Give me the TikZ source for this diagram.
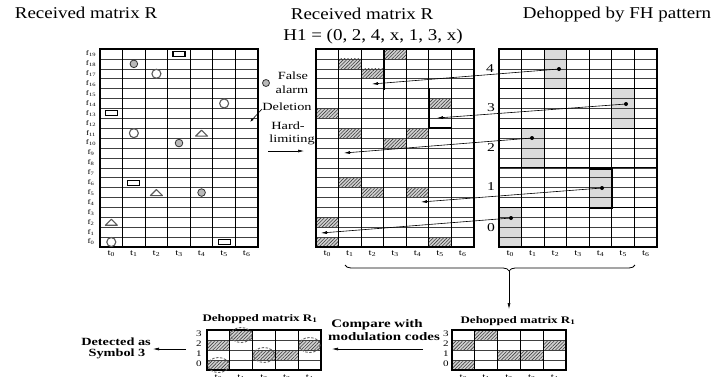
\documentclass[tikz,border=0pt]{standalone}
\usepackage{fontspec}
\setmainfont[FakeStretch=1.15]{Liberation Serif}
\newfontfamily\wfont[FakeStretch=1.3]{Liberation Serif}
\usetikzlibrary{patterns.meta,arrows.meta,decorations.pathreplacing}
\newcommand\mcell[4]{\path[#4] ({#1+#2*22.571},{247-(#3+1)*9.9}) rectangle ({#1+(#2+1)*22.571},{247-#3*9.9});}
\newcommand\bcell[4]{\path[#4] ({#1+#2*22.8},{370-(#3+1)*10}) rectangle ({#1+(#2+1)*22.8},{370-#3*10});}
\newcommand\biggrid[1]{%
  \foreach \r in {1,...,19} \draw[hline] (#1,{247-\r*9.9}) -- ({#1+158},{247-\r*9.9});
  \foreach \i in {1,...,6} \draw[vline] ({#1+\i*22.571},49) -- ({#1+\i*22.571},247);
  \draw[border] (#1,49) rectangle ({#1+158},247);}
\newcommand\smallgrid[1]{%
  \foreach \r in {1,2,3} \draw[hline] (#1,{370-\r*10}) -- ({#1+114},{370-\r*10});
  \foreach \i in {1,...,4} \draw[vline] ({#1+\i*22.8},330) -- ({#1+\i*22.8},370);
  \draw[border] (#1,330) rectangle ({#1+114},370);}
\begin{document}
\begin{tikzpicture}[x=1pt,y=-1pt,
  title/.style={font=\fontsize{16.5}{18}\selectfont, inner sep=0pt},
  legend/.style={font=\wfont\fontsize{11}{12}\selectfont, inner sep=0pt},
  digit/.style={font=\wfont\fontsize{12}{12}\selectfont, inner sep=0pt},
  boldlab/.style={font=\wfont\bfseries\fontsize{11}{12}\selectfont, inner sep=0pt},
  flab/.style={font=\wfont\fontsize{7}{7}\selectfont, inner sep=0pt},
  tlab/.style={font=\wfont\fontsize{8.5}{9}\selectfont, inner sep=0pt},
  hline/.style={line width=0.6pt, black!75},
  vline/.style={line width=1.1pt},
  grp/.style={line width=0.9pt},
  border/.style={line width=1.3pt},
  hatch/.style={fill=gray!35, postaction={pattern={Lines[angle=45,distance=2.4pt,line width=0.6pt]}, pattern color=gray!50!black}},
  shadecell/.style={fill=gray!28},
  thickl/.style={line width=2pt, line cap=rect},
  arr/.style={line width=0.6pt, -{Latex[length=6pt,width=3pt]}},
  dot/.style={circle, fill=black, inner sep=0pt, minimum size=4pt},
  symrect/.style={line width=1.1pt, fill=white},
  symcirc/.style={line width=1.1pt, draw=black!65},
  symfa/.style={line width=0.8pt, draw=black!80, fill=gray!55},
  symtri/.style={line width=1.1pt, draw=black!65, line join=round},
  ring/.style={draw=black!60, line width=0.9pt, dash pattern=on 2.5pt off 1.5pt}]
\useasboundingbox (0,0) rectangle (728,376);
\fill[white] (0,0) rectangle (728,376);

% ---------- titles ----------
\node[title] (t1) at (86,13) {Received matrix R};
\node[title] (t2) at (362,14) {Received matrix R};
\node[title] (t3) at (373,37) {H1 = (0, 2, 4, x, 1, 3, x)};
\node[title] (t4) at (617,15) {Dehopped by FH pattern};

% ---------- axis labels ----------
\foreach \r in {0,...,19} \node[flab] (f\r) at (91,{247-(\r+0.5)*9.9}) {f\textsubscript{\r}};
\foreach \i in {0,...,6} \node[tlab] (la\i) at ({100+(\i+0.5)*22.571},254) {t\textsubscript{\i}};
\foreach \i in {0,...,6} \node[tlab] (lb\i) at ({316+(\i+0.5)*22.571},254) {t\textsubscript{\i}};
\foreach \i in {0,...,6} \node[tlab] (lc\i) at ({499+(\i+0.5)*22.571},254) {t\textsubscript{\i}};
\foreach \r in {0,...,3} \node[tlab] (ra\r) at (446,{370-(\r+0.5)*10-1}) {\r};
\foreach \i in {0,...,4} \node[tlab] (rt\i) at ({452+(\i+0.5)*22.8},378) {t\textsubscript{\i}};
\foreach \r in {0,...,3} \node[tlab] (lla\r) at (199,{370-(\r+0.5)*10-1}) {\r};
\foreach \i in {0,...,4} \node[tlab] (lt\i) at ({207+(\i+0.5)*22.8},378) {t\textsubscript{\i}};

% ---------- left matrix ----------
\biggrid{100}
\foreach \c/\r in {3/19,0/13,1/6,5/0}
  \draw[symrect] ({100+(\c+0.5)*22.571-6},{247-(\r+0.5)*9.9-2.5}) rectangle ++(12,5);
\foreach \c/\r in {2/17,5/14,1/11,0/0}
  \draw[symcirc] ({100+(\c+0.5)*22.571},{247-(\r+0.5)*9.9}) circle (4.5);
\foreach \c/\r in {1/18,3/10,4/5}
  \draw[symfa] ({100+(\c+0.5)*22.571},{247-(\r+0.5)*9.9}) circle (3.8);
\foreach \c/\r in {4/11,2/5,0/2}
  \draw[symtri] ({100+(\c+0.5)*22.571-6},{247-(\r+0.5)*9.9+3}) -- ++(6,-6) -- ++(6,6) -- cycle;

% ---------- legend ----------
\draw[symfa] (266,83) circle (3.5);
\node[legend] (fa1) at (293,76) {False};
\node[legend] (fa2) at (292,90) {alarm};
\node[legend] (del) at (287,107) {Deletion};
\node[legend] (hl1) at (288,126) {Hard-};
\node[legend] (hl2) at (292,140) {limiting};
\coordinate (dels) at (262,109);
\coordinate (dele) at (250,122);
\draw[line width=0.6pt, -{Latex[length=4pt,width=2.5pt]}] (dels) -- (dele);
\coordinate (hla) at (268,151);
\coordinate (hlb) at (304,151);
\draw[arr] (hla) -- (hlb);

% ---------- middle matrix ----------
\foreach \c/\r in {3/19,1/18,2/17,0/13,5/14,1/11,4/11,3/10,1/6,2/5,4/5,0/2,0/0,5/0}
  \mcell{316}{\c}{\r}{hatch}
\biggrid{316}
\draw[thickl] (383.7,49) -- (383.7,88.6);
\draw[thickl] (428.9,88.6) -- (428.9,128.2) -- (451.4,128.2);
\draw[thickl] (316,207.4) -- (316,247) -- (338.6,247);

% ---------- right matrix ----------
\mcell{499}{0}{0}{shadecell} \mcell{499}{0}{1}{shadecell} \mcell{499}{0}{2}{shadecell} \mcell{499}{0}{3}{shadecell}
\mcell{499}{1}{8}{shadecell} \mcell{499}{1}{9}{shadecell} \mcell{499}{1}{10}{shadecell} \mcell{499}{1}{11}{shadecell}
\mcell{499}{2}{16}{shadecell} \mcell{499}{2}{17}{shadecell} \mcell{499}{2}{18}{shadecell} \mcell{499}{2}{19}{shadecell}
\mcell{499}{4}{4}{shadecell} \mcell{499}{4}{5}{shadecell} \mcell{499}{4}{6}{shadecell} \mcell{499}{4}{7}{shadecell}
\mcell{499}{5}{12}{shadecell} \mcell{499}{5}{13}{shadecell} \mcell{499}{5}{14}{shadecell} \mcell{499}{5}{15}{shadecell}
\biggrid{499}
\foreach \r in {4,8,12,16} \draw[grp] (499,{247-\r*9.9}) -- (657,{247-\r*9.9});
\draw[line width=1.6pt] (589.3,168.8) rectangle (611.9,208.4);

\node[digit] (s4) at (490,69) {4};
\node[digit] (s3) at (491,108) {3};
\node[digit] (s2) at (491,148) {2};
\node[digit] (s1) at (491,187) {1};
\node[digit] (s0) at (491,228) {0};

\node[dot] (d0) at (511,218) {};
\node[dot] (d1) at (532,138) {};
\node[dot] (d2) at (559,69) {};
\node[dot] (d4) at (602,188) {};
\node[dot] (d5) at (626,104) {};
\coordinate (e0) at (321,233);
\coordinate (e1) at (344,153);
\coordinate (e2) at (372,84);
\coordinate (e4) at (421,202);
\coordinate (e5) at (437,118);
\foreach \k in {0,1,2,4,5} \draw[arr] (d\k.center) -- (e\k);

% ---------- brace ----------
\draw[line width=0.8pt, decorate, decoration={brace, amplitude=6pt, aspect=0.434}] (635,265) -- (345,265);
\coordinate (bt) at (509,271);
\coordinate (bb) at (509,309);
\draw[arr] (bt) -- (bb);

% ---------- bottom right matrix ----------
\node[boldlab, font=\wfont\bfseries\fontsize{10}{11}\selectfont] (r1t) at (518,321) {Dehopped matrix R\textsubscript{1}};
\bcell{452}{0}{2}{hatch} \bcell{452}{0}{0}{hatch} \bcell{452}{1}{3}{hatch}
\bcell{452}{2}{1}{hatch} \bcell{452}{3}{1}{hatch} \bcell{452}{4}{2}{hatch}
\smallgrid{452}

% ---------- compare ----------
\node[boldlab, font=\wfont\bfseries\fontsize{11.5}{12}\selectfont] (cmp1) at (377,325) {Compare with};
\node[boldlab, font=\wfont\bfseries\fontsize{11.5}{12}\selectfont] (cmp2) at (384,337) {modulation codes};
\coordinate (ca) at (423,349);
\coordinate (cb) at (332,349);
\draw[arr] (ca) -- (cb);

% ---------- bottom left matrix ----------
\node[boldlab, font=\wfont\bfseries\fontsize{10}{11}\selectfont] (l1t) at (260,319) {Dehopped matrix R\textsubscript{1}};
\bcell{207}{0}{2}{hatch} \bcell{207}{0}{0}{hatch} \bcell{207}{1}{3}{hatch}
\bcell{207}{2}{1}{hatch} \bcell{207}{3}{1}{hatch} \bcell{207}{4}{2}{hatch}
\smallgrid{207}
\foreach \c/\r in {0/0,1/3,2/1,4/2}
  \draw[ring] ({207+(\c+0.5)*22.8},{370-(\r+0.5)*10}) circle [x radius=10.5, y radius=7.5];

% ---------- detected ----------
\node[boldlab] (det1) at (116,342) {Detected as};
\node[boldlab] (det2) at (117,354) {Symbol 3};
\coordinate (da) at (186,349);
\coordinate (db) at (153,349);
\draw[arr] (da) -- (db);
\end{tikzpicture}
\end{document}
